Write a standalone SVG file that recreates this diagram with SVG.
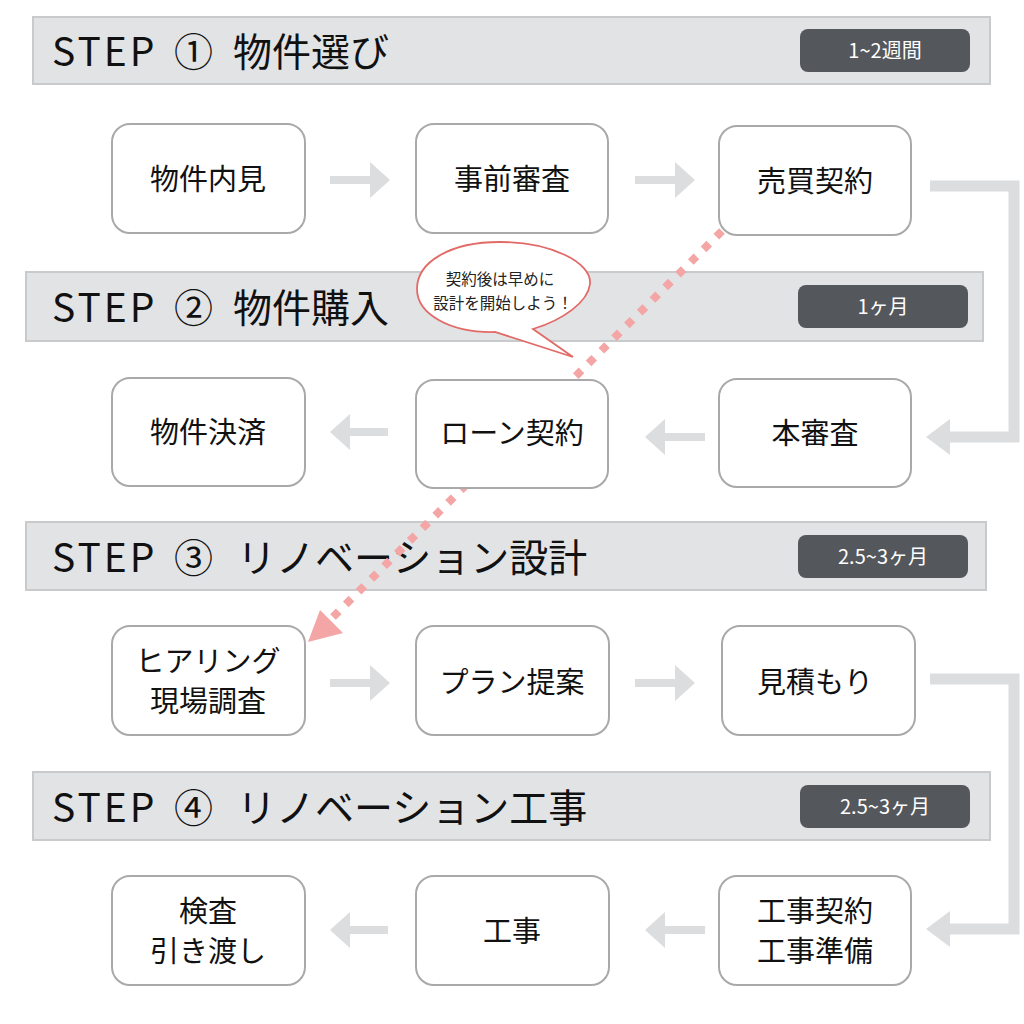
<svg xmlns="http://www.w3.org/2000/svg" width="1024" height="1024" viewBox="0 0 1024 1024">
<style>
.bar{fill:#e2e3e5;stroke:#c9cacc;stroke-width:2}
.badge{fill:#54575c}
.bt{font-family:"Noto Sans CJK JP","Noto Sans",sans-serif;font-size:20px;fill:#fff;text-anchor:middle}
.st{font-family:"Noto Sans CJK JP","Noto Sans",sans-serif;font-size:39px;fill:#111}
.ls{letter-spacing:3px}
.box{fill:#fff;stroke:#a9a9a9;stroke-width:2}
.nt{font-family:"Noto Sans CJK JP","Noto Sans",sans-serif;font-size:29px;fill:#111;text-anchor:middle}
.ct{font-family:"Noto Sans CJK JP","Noto Sans",sans-serif;font-size:15.5px;fill:#222;text-anchor:middle}
.ar{fill:#dcdddf}
.el{fill:none;stroke:#dcdddf;stroke-width:11}
</style>
<rect width="1024" height="1024" fill="#fff"/>
<g id="step1">
<rect class="bar" x="33" y="17" width="957" height="67"/>
<text class="st" y="66"><tspan class="ls" x="52">STEP</tspan><tspan x="174">①</tspan><tspan x="233">物件選び</tspan></text>
<rect class="badge" x="800" y="29" width="170" height="43" rx="8"/>
<text class="bt" x="885" y="58">1~2週間</text>
</g>
<g id="step2">
<rect class="bar" x="26" y="272" width="957" height="69"/>
<text class="st" y="322"><tspan class="ls" x="52">STEP</tspan><tspan x="174">②</tspan><tspan x="233">物件購入</tspan></text>
<rect class="badge" x="798" y="285" width="170" height="43" rx="8"/>
<text class="bt" x="883" y="314">1ヶ月</text>
</g>
<g id="step3">
<rect class="bar" x="26" y="522" width="960" height="68"/>
<text class="st" y="572"><tspan class="ls" x="52">STEP</tspan><tspan x="174">③</tspan><tspan x="237">リノベーション設計</tspan></text>
<rect class="badge" x="798" y="535" width="170" height="43" rx="8"/>
<text class="bt" x="883" y="564">2.5~3ヶ月</text>
</g>
<g id="step4">
<rect class="bar" x="33" y="772" width="957" height="68"/>
<text class="st" y="822"><tspan class="ls" x="52">STEP</tspan><tspan x="174">④</tspan><tspan x="237">リノベーション工事</tspan></text>
<rect class="badge" x="800" y="785" width="170" height="43" rx="8"/>
<text class="bt" x="885" y="814">2.5~3ヶ月</text>
</g>
<g id="connectors">
<path class="ar" d="M330,176 h40 v-14 l20,18 l-20,18 v-14 h-40z"/>
<path class="ar" d="M635,176 h40 v-14 l20,18 l-20,18 v-14 h-40z"/>
<path class="el" d="M930,186 H1014 V437 H950"/>
<path class="ar" d="M926,437 l24,-18 v36z"/>
<path class="ar" d="M705,433 h-40 v-14 l-20,18 l20,18 v-14 h40z"/>
<path class="ar" d="M388,428 h-38 v-14 l-20,18 l20,18 v-14 h38z"/>
<path class="ar" d="M330,679 h40 v-14 l20,18 l-20,18 v-14 h-40z"/>
<path class="ar" d="M635,679 h40 v-14 l20,18 l-20,18 v-14 h-40z"/>
<path class="el" d="M930,679 H1014 V929 H950"/>
<path class="ar" d="M926,929 l24,-18 v36z"/>
<path class="ar" d="M705,926 h-40 v-14 l-20,18 l20,18 v-14 h40z"/>
<path class="ar" d="M388,926 h-38 v-14 l-20,18 l20,18 v-14 h38z"/>
<line x1="722" y1="231" x2="333" y2="617" stroke="#f4a6a6" stroke-width="8" stroke-dasharray="8 10"/>
<path d="M308,642 l12,-32 l23,23z" fill="#f4a6a6"/>
</g>
<g id="n1"><rect class="box" x="112" y="124" width="193" height="109" rx="18"/><text class="nt" x="208" y="190">物件内見</text></g>
<g id="n2"><rect class="box" x="416" y="124" width="192" height="109" rx="18"/><text class="nt" x="512" y="190">事前審査</text></g>
<g id="n3"><rect class="box" x="719" y="126" width="192" height="109" rx="18"/><text class="nt" x="815" y="192">売買契約</text></g>
<g id="n4"><rect class="box" x="719" y="379" width="192" height="108" rx="18"/><text class="nt" x="815" y="444">本審査</text></g>
<g id="n5"><rect class="box" x="416" y="380" width="192" height="108" rx="18"/><text class="nt" x="512" y="444">ローン契約</text></g>
<g id="n6"><rect class="box" x="112" y="378" width="193" height="108" rx="18"/><text class="nt" x="208" y="443">物件決済</text></g>
<g id="n7"><rect class="box" x="112" y="626" width="193" height="109" rx="18"/><text class="nt" x="208" y="672">ヒアリング</text><text class="nt" x="208" y="712">現場調査</text></g>
<g id="n8"><rect class="box" x="416" y="626" width="193" height="109" rx="18"/><text class="nt" x="512" y="693">プラン提案</text></g>
<g id="n9"><rect class="box" x="722" y="626" width="193" height="109" rx="18"/><text class="nt" x="815" y="693">見積もり</text></g>
<g id="n10"><rect class="box" x="719" y="876" width="192" height="109" rx="18"/><text class="nt" x="815" y="922">工事契約</text><text class="nt" x="815" y="962">工事準備</text></g>
<g id="n11"><rect class="box" x="416" y="876" width="193" height="109" rx="18"/><text class="nt" x="512" y="942">工事</text></g>
<g id="n12"><rect class="box" x="112" y="876" width="193" height="109" rx="18"/><text class="nt" x="208" y="922">検査</text><text class="nt" x="208" y="962">引き渡し</text></g>
<g id="callout">
<path d="M533,329 C563,320 588,302 590,284 C592,262 550,242 500,242 C450,242 417,262 417,289 C417,314 450,333 495,332 L573,357 Z" fill="#fff" stroke="#e26a67" stroke-width="1.8"/>
<text class="ct" x="500" y="285">契約後は早めに</text>
<text class="ct" x="503" y="309">設計を開始しよう！</text>
</g>
</svg>
